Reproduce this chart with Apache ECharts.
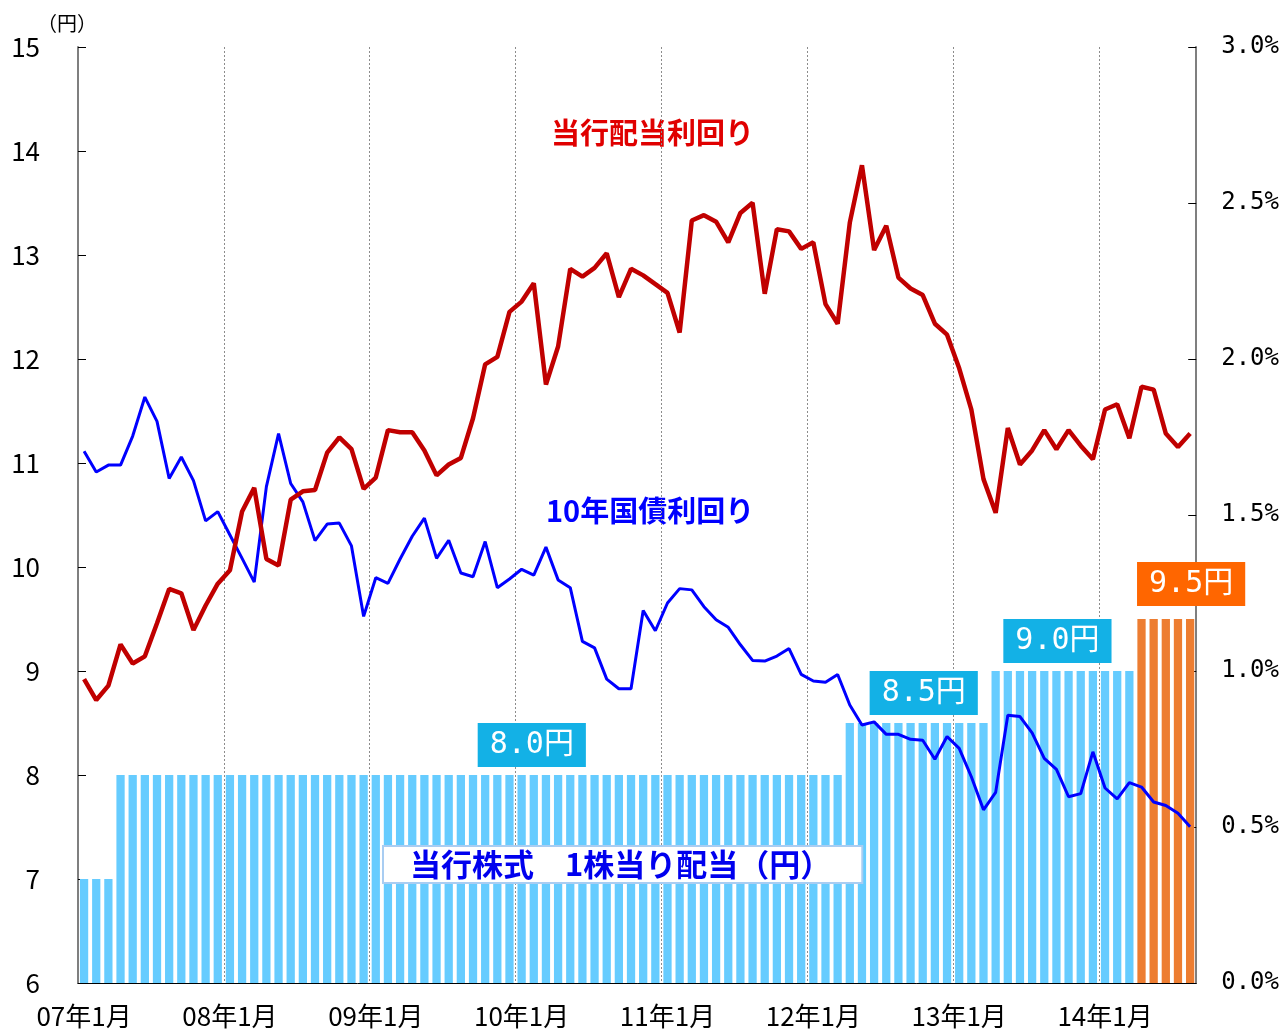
<!DOCTYPE html>
<html>
<head>
<meta charset="utf-8">
<script src="https://cdn.jsdelivr.net/npm/echarts@6/dist/echarts.min.js"></script>
<style>
  html, body { margin: 0; padding: 0; background: #fff; }
  #chart { width: 1282px; height: 1031px; }
</style>
</head>
<body>
<div id="chart"></div>
<script>
// 月次カテゴリ（07年1月〜14年8月）
const months = [];
for (let y = 7; y <= 14; y++) {
  for (let m = 1; m <= 12; m++) {
    if (y === 14 && m > 8) break;
    months.push((y < 10 ? "0" + y : "" + y) + "年" + m + "月");
  }
}

// 当行株式 1株当り配当（円）
const dividend = [
  7, 7, 7, 8, 8, 8, 8, 8, 8, 8, 8, 8,
  8, 8, 8, 8, 8, 8, 8, 8, 8, 8, 8, 8,
  8, 8, 8, 8, 8, 8, 8, 8, 8, 8, 8, 8,
  8, 8, 8, 8, 8, 8, 8, 8, 8, 8, 8, 8,
  8, 8, 8, 8, 8, 8, 8, 8, 8, 8, 8, 8,
  8, 8, 8, 8.5, 8.5, 8.5, 8.5, 8.5, 8.5, 8.5, 8.5, 8.5,
  8.5, 8.5, 8.5, 9, 9, 9, 9, 9, 9, 9, 9, 9,
  9, 9, 9, 9.5, 9.5, 9.5, 9.5, 9.5
];
// 予想（オレンジ）になる月
const forecastMonths = ["14年4月", "14年5月", "14年6月", "14年7月", "14年8月"];
// 配当額ラベル（表示する月 → テキスト）
const dividendTags = { "10年2月": "8.0円", "12年10月": "8.5円", "13年9月": "9.0円", "14年8月": "9.5円" };

// 当行配当利回り（%）
const divYield = [
  0.974, 0.907, 0.953, 1.085, 1.024, 1.047, 1.153, 1.263, 1.249, 1.131, 1.21, 1.28,
  1.323, 1.511, 1.587, 1.359, 1.338, 1.549, 1.576, 1.580, 1.700, 1.749, 1.711, 1.584,
  1.620, 1.772, 1.765, 1.765, 1.707, 1.627, 1.662, 1.683, 1.810, 1.983, 2.007, 2.151,
  2.184, 2.243, 1.918, 2.040, 2.289, 2.264, 2.292, 2.339, 2.198, 2.289, 2.268, 2.240,
  2.212, 2.085, 2.444, 2.461, 2.440, 2.374, 2.468, 2.501, 2.209, 2.416, 2.409, 2.353,
  2.374, 2.176, 2.113, 2.437, 2.621, 2.349, 2.427, 2.261, 2.226, 2.205, 2.113, 2.078,
  1.970, 1.838, 1.615, 1.507, 1.779, 1.662, 1.707, 1.772, 1.711, 1.772, 1.722, 1.679,
  1.838, 1.855, 1.746, 1.911, 1.902, 1.761, 1.718, 1.761
];

// 10年国債利回り（%）
const jgbYield = [
  1.704, 1.638, 1.660, 1.660, 1.753, 1.878, 1.800, 1.617, 1.686, 1.610, 1.481, 1.511,
  1.436, 1.361, 1.285, 1.591, 1.761, 1.601, 1.542, 1.418, 1.471, 1.474, 1.401, 1.175,
  1.299, 1.281, 1.359, 1.432, 1.490, 1.361, 1.419, 1.314, 1.302, 1.415, 1.267, 1.295,
  1.326, 1.307, 1.397, 1.292, 1.267, 1.095, 1.074, 0.974, 0.943, 0.943, 1.194, 1.129,
  1.218, 1.264, 1.260, 1.206, 1.164, 1.140, 1.084, 1.034, 1.032, 1.048, 1.072, 0.989,
  0.968, 0.964, 0.989, 0.891, 0.827, 0.837, 0.797, 0.797, 0.781, 0.778, 0.717, 0.790,
  0.752, 0.661, 0.555, 0.611, 0.858, 0.854, 0.802, 0.720, 0.685, 0.597, 0.607, 0.741,
  0.625, 0.590, 0.642, 0.628, 0.580, 0.569, 0.544, 0.501
];

const jpFont = "'Noto Sans CJK JP', sans-serif";
const monoFont = "'DejaVu Sans Mono', 'Noto Sans CJK JP', monospace";

// 棒グラフのデータ（予想月はオレンジ、ラベル付き月は箱ラベル）
const barData = dividend.map(function (v, i) {
  const item = { value: v };
  const forecast = forecastMonths.indexOf(months[i]) >= 0;
  if (forecast) item.itemStyle = { color: "#ED7D31" };
  const tag = dividendTags[months[i]];
  if (tag) {
    item.label = {
      show: true,
      position: "top",
      distance: forecast ? 13 : 8,
      offset: [months[i] === "10年2月" ? -2 : 1, 0],
      formatter: tag,
      color: "#fff",
      fontSize: 30,
      fontFamily: monoFont,
      lineHeight: 36,
      backgroundColor: forecast ? "#FF6600" : "#13B1E6",
      padding: [4, 12, 4, 12]
    };
  }
  return item;
});

const myChart = echarts.init(document.getElementById("chart"));

myChart.setOption({
  animation: false,
  backgroundColor: "#fff",
  grid: { left: 78, right: 85, top: 47, bottom: 48 },
  xAxis: {
    type: "category",
    data: months,
    boundaryGap: true,
    axisLine: { lineStyle: { color: "#000", width: 1 } },
    axisTick: { interval: 11, inside: true, length: 6, lineStyle: { color: "#000" } },
    axisLabel: {
      interval: 11,
      margin: 20,
      color: "#000",
      fontSize: 26,
      fontFamily: jpFont
    },
    splitLine: {
      show: true,
      interval: 11,
      lineStyle: { color: "#8c8c8c", type: [2, 2], width: 1 }
    }
  },
  yAxis: [
    {
      type: "value",
      min: 6,
      max: 15,
      interval: 1,
      name: "（円）",
      nameLocation: "end",
      nameGap: 14,
      nameTextStyle: { color: "#000", fontSize: 20, fontFamily: jpFont, padding: [0, 22, 0, 0] },
      axisLine: { show: true, lineStyle: { color: "#7f7f7f", width: 2 } },
      axisTick: { show: true, inside: true, length: 8, lineStyle: { color: "#000" } },
      axisLabel: { color: "#000", fontSize: 26, fontFamily: jpFont, margin: 38 },
      splitLine: { show: false }
    },
    {
      type: "value",
      min: 0,
      max: 3,
      interval: 0.5,
      position: "right",
      axisLine: { show: true, lineStyle: { color: "#7f7f7f", width: 2 } },
      axisTick: { show: true, inside: true, length: 8, lineStyle: { color: "#000" } },
      axisLabel: {
        color: "#000",
        fontSize: 24,
        fontFamily: monoFont,
        margin: 25,
        formatter: function (v) { return v.toFixed(1) + "%"; }
      },
      splitLine: { show: false }
    }
  ],
  series: [
    {
      name: "当行株式　1株当り配当（円）",
      type: "bar",
      yAxisIndex: 0,
      barCategoryGap: "32%",
      itemStyle: { color: "#66CCFF" },
      data: barData,
      z: 2
    },
    {
      name: "10年国債利回り",
      type: "line",
      yAxisIndex: 1,
      symbol: "none",
      lineStyle: { color: "#0000FF", width: 3 },
      data: jgbYield,
      z: 3
    },
    {
      name: "当行配当利回り",
      type: "line",
      yAxisIndex: 1,
      symbol: "none",
      lineStyle: { color: "#C00000", width: 4.5 },
      data: divYield,
      z: 4
    }
  ],
  graphic: [
    {
      type: "text",
      left: 551,
      top: 118,
      style: {
        text: "当行配当利回り",
        fill: "#E00000",
        font: "bold 29px " + jpFont
      }
    },
    {
      type: "text",
      left: 546,
      top: 496,
      style: {
        text: "10年国債利回り",
        fill: "#0000FF",
        font: "bold 29px " + jpFont
      }
    },
    {
      type: "text",
      left: 382,
      top: 845,
      z: 10,
      style: {
        text: "当行株式　1株当り配当（円）",
        fill: "#0000EE",
        font: "bold 31px " + jpFont,
        backgroundColor: "#fff",
        borderColor: "#A9CDF2",
        borderWidth: 2,
        padding: [2, 30, 2, 26]
      }
    }
  ]
});
</script>
</body>
</html>
